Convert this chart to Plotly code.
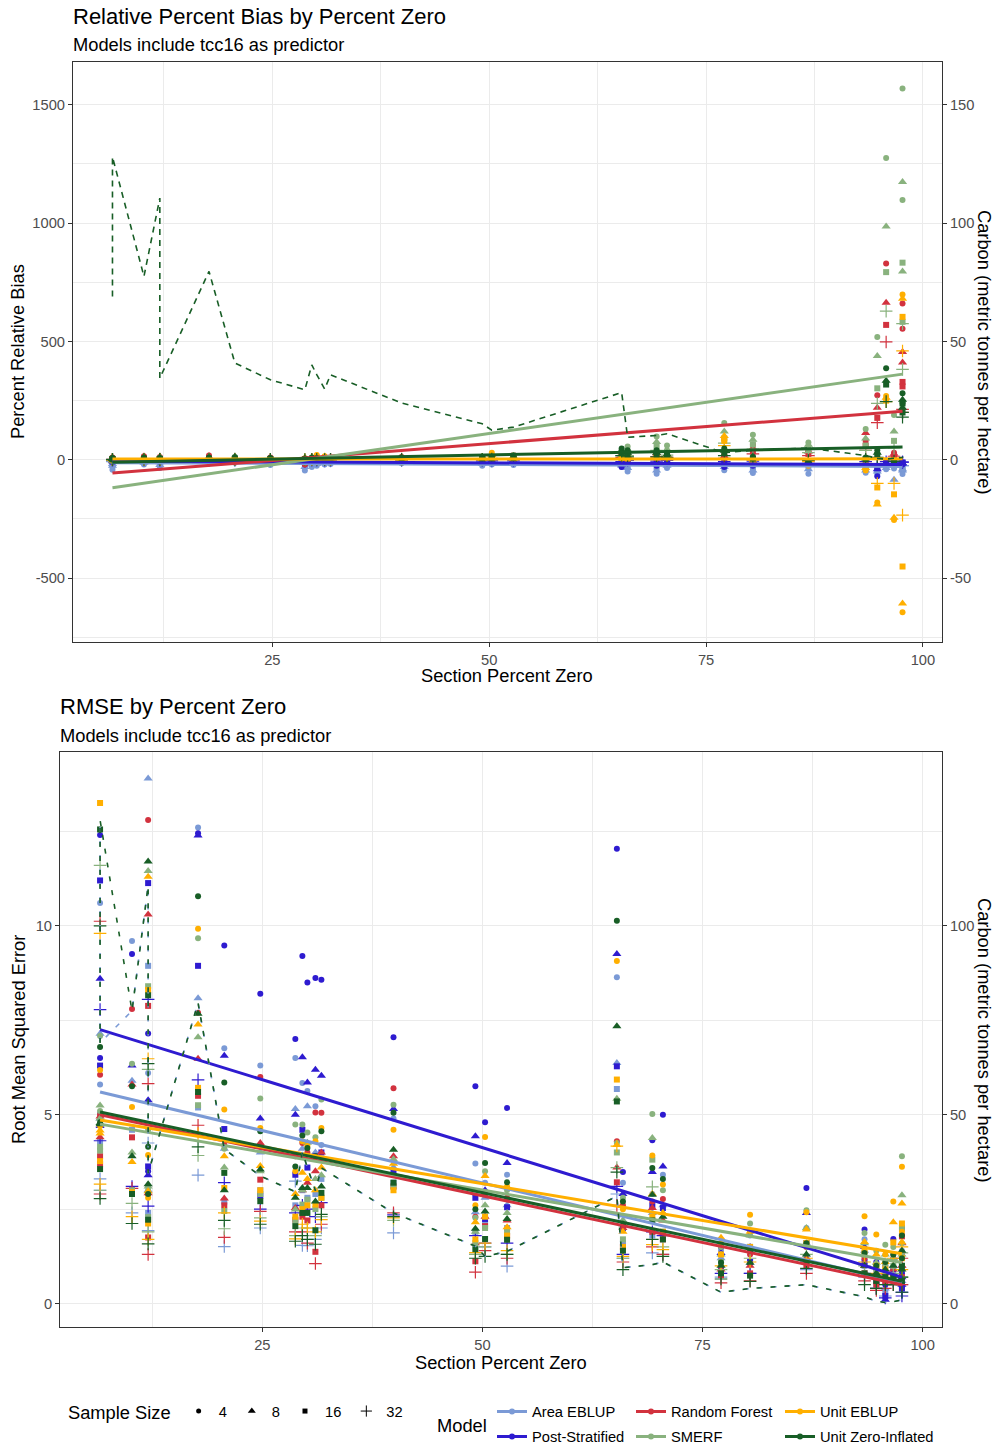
import plotly.graph_objects as go
from plotly.subplots import make_subplots

W, H = 995, 1449

MODELS = ["Area EBLUP", "Post-Stratified", "Random Forest", "SMERF", "Unit EBLUP", "Unit Zero-Inflated"]
COLORS = ["#7B9AD6", "#2E1BD0", "#D2323E", "#89B27E", "#FFAF00", "#185E26"]
SAMPLE_SIZES = [4, 8, 16, 32]
SYMBOLS = ["circle", "triangle-up", "square", "cross-thin"]
SYMBOL_SIZES = [6, 8, 6, 9]

# section percent zero and mean carbon (t/ha) for each section
PCT_ZERO = [6.57, 6.57, 10.2, 12.03, 12.03, 17.7, 20.68, 24.77, 28.75, 29.55,
            30.12, 31.03, 31.71, 39.9, 49.2, 50.3, 52.8, 65.27, 65.96, 69.3,
            70.5, 77.1, 80.4, 86.8, 93.4, 94.74, 95.76, 96.67, 97.65, 97.65]
CARBON = [69, 128, 77.5, 110.6, 34.5, 79.6, 40.9, 33.8, 29.6, 40.1,
          36.0, 29.9, 35.9, 24.0, 15.2, 12.5, 13.8, 28.4, 9.5, 10.3,
          11.0, 3.0, 4.0, 5.0, 1.8, 0.6, 0.3, 0.5, 1.0, 0.8]

# Percent relative bias: per model, one list per sample size (4, 8, 16, 32)
BIAS_AREA_EBLUP = [
    [-42, -30, -20, -35, -15, -10, -12, -22, -45, -30, -25, -20, -18, -15, -25, -20, -22, -30, -49, -59,
     -35, -44, -56, -59, -55, -60, -40, -37, -48, -60],
    [-25, -18, -12, -22, -10, -8, -8, -15, -30, -20, -18, -15, -12, -10, -18, -15, -15, -25, -35, -45,
     -25, -30, -45, -40, -45, -50, -35, -84, -40, -45],
    [-15, -10, -8, -14, -6, -5, -5, -10, -20, -12, -12, -10, -8, -6, -12, -10, -10, -18, -25, -30,
     -18, -22, -32, -25, -35, -40, -30, -25, -35, -35],
    [-8, -6, -4, -8, -3, -3, -3, -6, -12, -7, -7, -6, -5, -4, -8, -6, -6, -12, -15, -18,
     -12, -15, -20, -15, -25, -28, -22, -18, -25, -25],
]
BIAS_POST_STRATIFIED = [
    [-10, -5, -6, -8, -4, -3, -5, -8, -20, -8, -8, -6, -6, -5, -8, -6, -6, -30, -12, -25,
     -10, -30, -25, -15, -20, -70, -16, -12, -16, -20],
    [-6, -3, -4, -5, -3, -2, -3, -5, -12, -5, -5, -4, -4, -3, -5, -4, -4, -20, -8, -15,
     -6, -20, -15, -10, -15, -40, -12, -10, -15, -15],
    [-4, -2, -2, -3, -2, -1, -2, -3, -8, -3, -3, -3, -3, -2, -3, -3, -3, -12, -5, -10,
     -4, -12, -10, -7, -10, -30, -10, -8, -12, -12],
    [-2, -1, -1, -2, -1, -1, -1, -2, -5, -2, -2, -2, -2, -1, -2, -2, -2, -8, -3, -6,
     -3, -8, -6, -5, -8, -20, -8, -6, -10, -10],
]
BIAS_RANDOM_FOREST = [
    [10, 5, 15, 12, 8, 18, 6, 10, -20, 8, 6, 10, 8, 12, 8, 10, 20, 30, 20, 35,
     28, 20, 64, 42, 80, 273, 830, 30, 660, 554],
    [6, 3, 10, 8, 5, 12, 4, 6, -12, 5, 4, 6, 5, 8, 5, 6, 12, 22, 15, 28,
     22, 15, 50, 35, 113, 220, 664, 25, 455, 411],
    [4, 2, 6, 5, 3, 8, 3, 4, -8, 3, 3, 4, 3, 5, 3, 4, 8, 15, 10, 20,
     15, 10, 35, 25, 60, 177, 570, 20, 329, 310],
    [2, 1, 3, 3, 2, 4, 2, 2, -5, 2, 2, 2, 2, 3, 2, 2, 4, 10, 6, 12,
     10, 6, 25, 18, 40, 157, 498, 15, 213, 200],
]
BIAS_SMERF = [
    [-5, 5, 8, 5, 10, 6, 8, 5, 2, 6, 5, 4, 6, 8, 10, 15, 20, 40, 56, 98,
     60, 155, 106, 73, 130, 519, 1275, 189, 1569, 1098],
    [-3, 3, 5, 3, 6, 4, 5, 3, 1, 4, 3, 3, 4, 5, 6, 10, 14, 32, 42, 75,
     45, 120, 85, 64, 90, 439, 986, 120, 1174, 796],
    [-2, 2, 3, 2, 4, 2, 3, 2, 1, 2, 2, 2, 2, 3, 4, 6, 8, 25, 30, 55,
     30, 90, 65, 45, 60, 302, 793, 80, 833, 583],
    [-1, 1, 2, 1, 2, 1, 2, 1, 0, 1, 1, 1, 1, 2, 2, 4, 5, 18, 18, 40,
     20, 70, 45, 30, 40, 238, 628, 50, 575, 382],
]
BIAS_UNIT_EBLUP = [
    [3, 2, 5, 4, 3, 5, 4, 3, 6, 5, 20, 15, 4, 3, 5, 30, 8, 15, 12, 20,
     25, 85, -8, -25, -45, -181, 270, -254, 699, -644],
    [2, 1, 3, 3, 2, 3, 3, 2, 4, 3, 15, 10, 3, 2, 3, 20, 5, 10, 8, 15,
     18, 100, -5, -18, -35, -189, 262, -245, 680, -607],
    [1, 1, 2, 2, 1, 2, 2, 1, 2, 2, 10, 6, 2, 1, 2, 12, 3, 8, 5, 10,
     12, 80, -3, -12, -25, -117, 250, -146, 604, -451],
    [0, 0, 1, 1, 0, 1, 1, 0, 1, 1, 5, 3, 1, 0, 1, 6, 2, 5, 3, 6,
     6, 60, -2, -8, -15, -100, 246, -100, 460, -234],
]
BIAS_UNIT_ZERO_INFLATED = [
    [8, 6, 10, 8, 6, 10, 12, 8, 5, 10, 8, 6, 8, 10, 10, 12, 15, 48, 40, 40,
     30, 48, 13, -13, 10, 40, 387, -20, 281, 240],
    [5, 4, 6, 5, 4, 6, 8, 5, 3, 6, 5, 4, 5, 6, 6, 8, 10, 38, 30, 30,
     22, 38, 8, -8, 5, 30, 334, -15, 254, 220],
    [3, 2, 4, 3, 2, 4, 5, 3, 2, 4, 3, 2, 3, 4, 4, 5, 6, 28, 20, 20,
     15, 28, 5, -5, 3, 20, 318, -10, 238, 200],
    [2, 1, 2, 2, 1, 2, 3, 2, 1, 2, 2, 1, 2, 2, 2, 3, 4, 18, 12, 12,
     10, 18, 3, -3, 2, 10, 246, -6, 200, 180],
]

# RMSE: per model, one row per section with values for sample sizes (4, 8, 16, 32)
RMSE_AREA_EBLUP = [
    [5.8, 4.9, 4.3, 3.3], [10.6, 7.14, 5.0, 3.0], [9.6, 5.9, 4.6, 2.4], [6.1, 13.9, 8.94, 4.25],
    [3.1, 3.0, 2.4, 1.93], [12.6, 8.08, 5.19, 3.4], [6.76, 4.1, 2.7, 1.51], [6.3, 4.0, 3.0, 2.0],
    [6.5, 5.15, 2.6, 3.24], [5.84, 4.1, 3.0, 1.54], [5.63, 5.22, 2.8, 1.53], [5.22, 4.0, 2.9, 1.7],
    [4.2, 3.8, 3.3, 2.0], [4.9, 3.6, 3.2, 1.87], [3.71, 2.42, 1.9, 1.3], [3.2, 2.8, 2.1, 1.5],
    [3.41, 2.6, 2.0, 0.99], [8.64, 6.37, 5.68, 2.9], [3.2, 2.2, 1.6, 1.2], [2.9, 2.4, 1.8, 1.34],
    [3.41, 2.6, 1.9, 1.3], [1.4, 1.2, 0.9, 0.7], [1.8, 1.4, 1.1, 0.8], [2.0, 1.6, 1.2, 0.9],
    [1.7, 1.4, 1.0, 0.7], [1.0, 0.7, 0.5, 0.4], [0.6, 0.4, 0.3, 0.2], [1.3, 1.0, 0.7, 0.5],
    [1.4, 1.0, 0.8, 0.5], [0.9, 0.6, 0.4, 0.3],
]
RMSE_POST_STRATIFIED = [
    [6.5, 4.7, 6.3, 4.31], [12.4, 8.6, 11.2, 7.78], [9.25, 6.3, 3.0, 3.1], [7.15, 5.38, 11.13, 8.05],
    [3.5, 3.4, 3.63, 2.58], [12.45, 12.39, 8.94, 5.92], [9.48, 6.56, 4.62, 3.2], [8.2, 4.9, 2.85, 2.5],
    [7.0, 5.0, 3.41, 2.4], [9.2, 6.52, 4.6, 2.6], [8.5, 5.85, 3.6, 2.5], [8.62, 6.19, 3.9, 2.3],
    [8.57, 6.03, 4.0, 2.67], [7.05, 5.15, 3.5, 2.35], [5.75, 4.43, 2.8, 1.8], [4.8, 3.0, 2.24, 1.6],
    [5.18, 3.72, 2.55, 1.6], [12.04, 9.25, 6.28, 3.1], [3.48, 2.9, 2.0, 1.3], [4.32, 3.48, 2.6, 1.9],
    [5.0, 3.63, 2.53, 1.8], [1.5, 1.34, 1.0, 0.8], [1.9, 1.5, 1.1, 0.8], [3.06, 2.4, 1.6, 1.1],
    [1.96, 1.5, 1.1, 0.8], [1.1, 0.8, 0.6, 0.4], [0.5, 0.1, 0.2, 0.15], [1.71, 1.2, 0.9, 0.6],
    [1.0, 0.7, 0.5, 0.3], [0.8, 0.5, 0.4, 0.2],
]
RMSE_RANDOM_FOREST = [
    [5.0, 4.4, 3.7, 2.9], [6.06, 4.95, 3.9, 10.12], [7.8, 5.8, 4.4, 3.05], [12.8, 10.3, 7.88, 5.82],
    [2.9, 2.92, 1.75, 1.3], [7.7, 6.48, 5.5, 4.72], [4.2, 2.78, 2.6, 1.75], [6.0, 4.25, 3.28, 2.44],
    [3.9, 2.53, 2.22, 1.9], [4.25, 3.0, 2.3, 1.9], [4.0, 3.2, 2.2, 1.6], [5.06, 3.5, 1.37, 1.06],
    [5.05, 4.0, 2.6, 2.1], [5.7, 3.9, 3.1, 2.4], [2.3, 1.6, 1.12, 0.83], [2.9, 2.3, 2.05, 1.4],
    [2.8, 2.2, 1.8, 1.2], [4.3, 3.6, 3.21, 2.6], [2.6, 2.0, 1.5, 1.1], [2.7, 2.53, 1.9, 1.5],
    [2.77, 2.2, 1.7, 1.3], [1.0, 0.9, 0.75, 0.55], [1.3, 1.0, 0.8, 0.6], [1.5, 1.2, 1.0, 0.8],
    [1.2, 1.0, 0.8, 0.6], [0.9, 0.7, 0.5, 0.35], [1.0, 0.8, 0.6, 0.4], [1.2, 0.9, 0.7, 0.5],
    [2.0, 1.6, 1.78, 1.2], [1.3, 1.0, 0.7, 0.5],
]
RMSE_SMERF = [
    [5.1, 4.9, 4.05, 3.0], [7.08, 5.24, 4.15, 11.6], [6.35, 4.0, 3.0, 2.65], [4.6, 11.45, 8.4, 6.2],
    [3.0, 3.1, 2.29, 1.9], [9.67, 7.05, 5.25, 3.92], [4.1, 3.6, 2.45, 1.98], [5.43, 3.5, 2.9, 2.27],
    [4.74, 2.49, 2.2, 1.8], [4.74, 3.0, 2.62, 2.0], [4.53, 4.26, 2.75, 2.0], [4.4, 3.3, 2.5, 1.8],
    [5.4, 3.4, 2.8, 2.3], [5.26, 3.82, 3.1, 2.2], [2.27, 1.9, 1.6, 1.3], [3.5, 2.6, 2.0, 1.5],
    [3.0, 2.4, 1.9, 1.3], [4.25, 5.42, 4.0, 3.6], [2.8, 2.2, 1.7, 1.2], [5.02, 4.38, 3.81, 3.09],
    [3.0, 2.4, 1.9, 1.5], [1.5, 1.3, 1.1, 0.9], [2.12, 1.8, 1.5, 1.2], [2.47, 2.0, 1.6, 1.3],
    [1.87, 1.6, 1.3, 1.0], [1.4, 1.08, 0.9, 0.7], [1.56, 1.3, 1.0, 0.8], [1.5, 1.2, 1.0, 0.8],
    [3.9, 2.87, 2.0, 1.34], [1.6, 1.3, 1.0, 0.7],
]
RMSE_UNIT_EBLUP = [
    [4.7, 4.5, 3.77, 3.16], [6.18, 4.58, 13.25, 9.8], [5.2, 3.75, 2.95, 2.3], [3.93, 11.3, 8.3, 6.48],
    [2.8, 2.97, 2.12, 1.7], [9.92, 7.39, 5.71, 4.5], [5.14, 3.9, 3.06, 2.4], [4.65, 3.64, 3.0, 2.18],
    [3.5, 2.9, 2.3, 1.71], [4.3, 3.46, 2.5, 2.1], [4.17, 3.3, 2.6, 2.0], [4.3, 3.0, 2.62, 1.9],
    [4.65, 3.6, 2.8, 2.22], [4.6, 3.7, 3.0, 2.27], [2.6, 2.15, 1.7, 1.35], [4.41, 3.38, 2.3, 1.6],
    [3.1, 2.02, 1.8, 1.4], [9.07, 4.2, 5.93, 4.17], [2.5, 1.9, 1.5, 1.25], [3.92, 2.9, 2.3, 1.56],
    [3.15, 2.4, 1.9, 1.43], [1.6, 1.74, 1.3, 1.0], [2.35, 1.9, 1.5, 1.1], [2.42, 1.96, 1.6, 1.2],
    [2.31, 1.63, 1.4, 1.1], [1.83, 1.3, 1.0, 0.8], [1.3, 1.1, 0.9, 0.7], [2.7, 2.15, 1.62, 1.2],
    [3.62, 2.65, 2.12, 1.5], [1.9, 1.62, 1.2, 0.9],
]
RMSE_UNIT_ZERO_INFLATED = [
    [4.8, 4.75, 3.56, 2.78], [6.79, 4.78, 12.55, 10.0], [5.75, 3.9, 2.9, 2.12], [4.15, 11.7, 8.16, 6.35],
    [2.9, 3.16, 2.22, 1.58], [10.78, 7.67, 5.6, 4.15], [5.85, 3.0, 3.46, 2.2], [4.56, 3.55, 2.71, 2.1],
    [3.63, 2.8, 2.05, 1.65], [4.45, 3.06, 2.4, 1.8], [4.12, 3.06, 2.4, 1.7], [3.9, 2.7, 1.94, 1.57],
    [4.56, 3.1, 2.93, 2.36], [5.05, 4.07, 3.2, 2.3], [2.5, 1.98, 1.44, 1.2], [3.72, 2.44, 1.71, 1.25],
    [3.21, 2.24, 1.69, 1.3], [10.13, 7.34, 5.35, 3.48], [2.7, 2.1, 1.4, 0.9], [3.59, 2.88, 2.2, 1.7],
    [3.3, 2.3, 1.7, 1.25], [1.09, 1.0, 0.8, 0.65], [1.4, 1.08, 0.74, 0.59], [1.6, 1.3, 1.1, 0.93],
    [1.34, 1.0, 0.8, 0.5], [1.0, 0.8, 0.6, 0.4], [1.1, 0.9, 0.7, 0.5], [1.3, 1.0, 0.7, 0.5],
    [1.8, 1.4, 1.0, 0.7], [1.2, 0.9, 0.6, 0.3],
]

# linear fits (value at lowest and highest percent zero), in model order
BIAS_FIT_LO = [-12, -6, -56, -118, 3, -10]
BIAS_FIT_HI = [-28, -20, 205, 362, 4, 54]
RMSE_FIT_LO = [5.6, 7.25, 5.0, 4.75, 4.86, 5.07]
RMSE_FIT_HI = [0.55, 0.7, 0.5, 1.09, 1.32, 0.59]

# axis ticks
BIAS_TICKS = [-500, 0, 500, 1000, 1500]
BIAS_CARBON_TICKS = [-50, 0, 50, 100, 150]
RMSE_TICKS = [0, 5, 10]
RMSE_CARBON_TICKS = [0, 50, 100]
X_TICKS = [25, 50, 75, 100]

BIAS = [BIAS_AREA_EBLUP, BIAS_POST_STRATIFIED, BIAS_RANDOM_FOREST, BIAS_SMERF,
        BIAS_UNIT_EBLUP, BIAS_UNIT_ZERO_INFLATED]
RMSE = [RMSE_AREA_EBLUP, RMSE_POST_STRATIFIED, RMSE_RANDOM_FOREST, RMSE_SMERF,
        RMSE_UNIT_EBLUP, RMSE_UNIT_ZERO_INFLATED]

FONT = "Liberation Sans, Arial, Helvetica, sans-serif"
TICK_SIZE = 14.7
TITLE_SIZE = 18.3


def px_x(v):
    return v / W


def px_y(v):
    return 1 - v / H


def labels(vals):
    return [str(v) for v in vals]


fig = make_subplots(rows=2, cols=1, specs=[[{"secondary_y": True}], [{"secondary_y": True}]])

# points
for mi, model in enumerate(MODELS):
    rmse_cols = list(zip(*RMSE[mi]))
    for si, n in enumerate(SAMPLE_SIZES):
        mk = dict(symbol=SYMBOLS[si], size=SYMBOL_SIZES[si], color=COLORS[mi],
                  line=dict(width=1.2 if SYMBOLS[si] == "cross-thin" else 0, color=COLORS[mi]))
        fig.add_trace(go.Scatter(x=PCT_ZERO, y=BIAS[mi][si], mode="markers", marker=mk,
                                 showlegend=False, hoverinfo="skip"), row=1, col=1, secondary_y=False)
        fig.add_trace(go.Scatter(x=PCT_ZERO, y=list(rmse_cols[si]), mode="markers", marker=mk,
                                 showlegend=False, hoverinfo="skip"), row=2, col=1, secondary_y=False)

# linear trend lines
x_fit = [min(PCT_ZERO), max(PCT_ZERO)]
for mi, model in enumerate(MODELS):
    fig.add_trace(go.Scatter(x=x_fit, y=[BIAS_FIT_LO[mi], BIAS_FIT_HI[mi]], mode="lines",
                             line=dict(color=COLORS[mi], width=3), showlegend=False, hoverinfo="skip"),
                  row=1, col=1, secondary_y=False)
    fig.add_trace(go.Scatter(x=x_fit, y=[RMSE_FIT_LO[mi], RMSE_FIT_HI[mi]], mode="lines",
                             line=dict(color=COLORS[mi], width=3), showlegend=False, hoverinfo="skip"),
                  row=2, col=1, secondary_y=False)

# carbon dashed lines (secondary axis)
fig.add_trace(go.Scatter(x=PCT_ZERO, y=CARBON, mode="lines",
                         line=dict(color=COLORS[5], width=1.6, dash="6px,5px"),
                         showlegend=False, hoverinfo="skip"), row=1, col=1, secondary_y=True)
order = sorted(range(len(PCT_ZERO)), key=lambda i: (PCT_ZERO[i], -CARBON[i]))
fig.add_trace(go.Scatter(x=[PCT_ZERO[i] for i in order], y=[CARBON[i] for i in order], mode="lines",
                         line=dict(color=COLORS[0], width=1.6, dash="0px,7px,5px,2px"),
                         showlegend=False, hoverinfo="skip"), row=2, col=1, secondary_y=True)
fig.add_trace(go.Scatter(x=PCT_ZERO, y=CARBON, mode="lines",
                         line=dict(color=COLORS[5], width=1.6, dash="5px,9px"),
                         showlegend=False, hoverinfo="skip"), row=2, col=1, secondary_y=True)

# legend entries: sample size
for si, n in enumerate(SAMPLE_SIZES):
    fig.add_trace(go.Scatter(x=[None], y=[None], mode="markers", name=str(n), legend="legend",
                             marker=dict(symbol=SYMBOLS[si], size=SYMBOL_SIZES[si] - 1, color="black",
                                         line=dict(width=1 if SYMBOLS[si] == "cross-thin" else 0, color="black"))))

# legend entries: model, laid out in 3 columns x 2 rows (column-major like the reference)
LEG_TEXT_X = [532, 532, 671, 671, 820, 820]
LEG_ROW_Y = [1412, 1437, 1412, 1437, 1412, 1437]
legend_layouts = {}
for mi, model in enumerate(MODELS):
    key = "legend%d" % (mi + 2)
    fig.add_trace(go.Scatter(x=[None], y=[None], mode="lines+markers", name=model, legend=key,
                             line=dict(color=COLORS[mi], width=3),
                             marker=dict(symbol="circle", size=6, color=COLORS[mi])))
    legend_layouts[key] = dict(orientation="h", x=px_x(LEG_TEXT_X[mi] - 40), xanchor="left",
                               y=px_y(LEG_ROW_Y[mi]), yanchor="middle",
                               font=dict(size=TICK_SIZE, family=FONT), bgcolor="rgba(0,0,0,0)")

axis_common = dict(showgrid=True, gridcolor="#EBEBEB", gridwidth=1.3, zeroline=False,
                   showline=True, linecolor="#333333", linewidth=1, mirror=True,
                   ticks="outside", ticklen=4, tickcolor="#333333", tickwidth=1,
                   tickfont=dict(size=TICK_SIZE, color="#4D4D4D", family=FONT))
sec_common = dict(showgrid=False, zeroline=False, showline=True, linecolor="#333333", linewidth=1,
                  ticks="outside", ticklen=4, tickcolor="#333333",
                  tickfont=dict(size=TICK_SIZE, color="#4D4D4D", family=FONT), tickmode="array")
minor_common = dict(showgrid=True, gridcolor="#EBEBEB", gridwidth=0.7, ticks="")

top_x = [px_x(73), px_x(942)]
bot_x = [px_x(60), px_x(942)]
top_y = [px_y(642), px_y(62)]
bot_y = [px_y(1327), px_y(752)]

fig.update_layout(
    width=W, height=H, margin=dict(l=0, r=0, t=0, b=0, autoexpand=False),
    paper_bgcolor="white", plot_bgcolor="white",
    font=dict(family=FONT, color="black"),
    hovermode=False,
    xaxis=dict(domain=top_x, range=[2.02, 102.2], tickmode="array", tickvals=X_TICKS, ticktext=labels(X_TICKS),
               minor=dict(dtick=12.5, tick0=0, **minor_common), **axis_common),
    yaxis=dict(domain=top_y, range=[-770, 1681], tickmode="array", tickvals=BIAS_TICKS,
               ticktext=labels(BIAS_TICKS), minor=dict(dtick=250, tick0=0, **minor_common), **axis_common),
    yaxis2=dict(range=[-77, 168.1], tickvals=BIAS_CARBON_TICKS, ticktext=labels(BIAS_CARBON_TICKS), **sec_common),
    xaxis2=dict(domain=bot_x, range=[2.02, 102.2], tickmode="array", tickvals=X_TICKS, ticktext=labels(X_TICKS),
                minor=dict(dtick=12.5, tick0=0, **minor_common), **axis_common),
    yaxis3=dict(domain=bot_y, range=[-0.62, 14.6], tickmode="array", tickvals=RMSE_TICKS,
                ticktext=labels(RMSE_TICKS), minor=dict(dtick=2.5, tick0=0, **minor_common), **axis_common),
    yaxis4=dict(range=[-6.2, 146], tickvals=RMSE_CARBON_TICKS, ticktext=labels(RMSE_CARBON_TICKS), **sec_common),
    legend=dict(title=dict(text="Sample Size", side="left", font=dict(size=TITLE_SIZE)),
                orientation="h", x=px_x(66), xanchor="left", y=px_y(1412), yanchor="middle",
                font=dict(size=TICK_SIZE), bgcolor="rgba(0,0,0,0)"),
    **legend_layouts,
)


def ann(text, x, y, size, xanchor="left", yanchor="middle", angle=0, color="black"):
    fig.add_annotation(text=text, x=px_x(x), y=px_y(y), xref="paper", yref="paper",
                       xanchor=xanchor, yanchor=yanchor, textangle=angle, showarrow=False,
                       font=dict(size=size, color=color, family=FONT))


ann("Relative Percent Bias by Percent Zero", 71, 17, 22)
ann("Models include tcc16 as predictor", 71, 45, TITLE_SIZE)
ann("Section Percent Zero", 507, 675, TITLE_SIZE, xanchor="center")
ann("Percent Relative Bias", 17, 352, TITLE_SIZE, xanchor="center", angle=-90)
ann("Carbon (metric tonnes per hectare)", 985, 352, TITLE_SIZE, xanchor="center", angle=90)

ann("RMSE by Percent Zero", 58, 707, 22)
ann("Models include tcc16 as predictor", 58, 735, TITLE_SIZE)
ann("Section Percent Zero", 501, 1362, TITLE_SIZE, xanchor="center")
ann("Root Mean Squared Error", 18, 1040, TITLE_SIZE, xanchor="center", angle=-90)
ann("Carbon (metric tonnes per hectare)", 985, 1040, TITLE_SIZE, xanchor="center", angle=90)

ann("Model", 435, 1425, TITLE_SIZE)

fig.write_html("out.html", config={"displayModeBar": False},
               post_script="document.body.style.margin='0';document.body.style.padding='0';")
